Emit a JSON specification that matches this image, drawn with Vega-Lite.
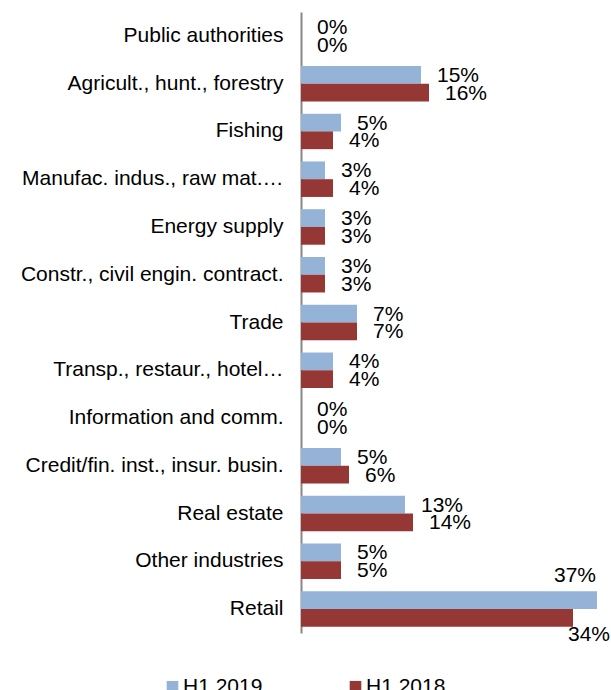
{
  "$schema": "https://vega.github.io/schema/vega-lite/v6.json",
  "width": 310,
  "height": 621,
  "autosize": "none",
  "padding": {"left": 301, "top": 12, "right": 0, "bottom": 57},
  "background": "white",
  "config": {
    "view": {"stroke": null},
    "font": "Liberation Sans",
    "text": {"font": "Liberation Sans", "fontSize": 21, "color": "#000000"}
  },
  "data": {
    "values": [
      {"sector": "Public authorities", "series": "H1 2019", "share": 0.0},
      {"sector": "Public authorities", "series": "H1 2018", "share": 0.0},
      {"sector": "Agricult., hunt., forestry", "series": "H1 2019", "share": 0.15},
      {"sector": "Agricult., hunt., forestry", "series": "H1 2018", "share": 0.16},
      {"sector": "Fishing", "series": "H1 2019", "share": 0.05},
      {"sector": "Fishing", "series": "H1 2018", "share": 0.04},
      {"sector": "Manufac. indus., raw mat.…", "series": "H1 2019", "share": 0.03},
      {"sector": "Manufac. indus., raw mat.…", "series": "H1 2018", "share": 0.04},
      {"sector": "Energy supply", "series": "H1 2019", "share": 0.03},
      {"sector": "Energy supply", "series": "H1 2018", "share": 0.03},
      {"sector": "Constr., civil engin. contract.", "series": "H1 2019", "share": 0.03},
      {"sector": "Constr., civil engin. contract.", "series": "H1 2018", "share": 0.03},
      {"sector": "Trade", "series": "H1 2019", "share": 0.07},
      {"sector": "Trade", "series": "H1 2018", "share": 0.07},
      {"sector": "Transp., restaur., hotel…", "series": "H1 2019", "share": 0.04},
      {"sector": "Transp., restaur., hotel…", "series": "H1 2018", "share": 0.04},
      {"sector": "Information and comm.", "series": "H1 2019", "share": 0.0},
      {"sector": "Information and comm.", "series": "H1 2018", "share": 0.0},
      {"sector": "Credit/fin. inst., insur. busin.", "series": "H1 2019", "share": 0.05},
      {"sector": "Credit/fin. inst., insur. busin.", "series": "H1 2018", "share": 0.06},
      {"sector": "Real estate", "series": "H1 2019", "share": 0.13},
      {"sector": "Real estate", "series": "H1 2018", "share": 0.14},
      {"sector": "Other industries", "series": "H1 2019", "share": 0.05},
      {"sector": "Other industries", "series": "H1 2018", "share": 0.05},
      {"sector": "Retail", "series": "H1 2019", "share": 0.37},
      {"sector": "Retail", "series": "H1 2018", "share": 0.34}
    ]
  },
  "encoding": {
    "y": {
      "field": "sector",
      "type": "nominal",
      "sort": null,
      "scale": {"paddingInner": 0.257, "paddingOuter": 0.1285},
      "axis": {
        "title": null,
        "ticks": false,
        "labelPadding": 18,
        "labelFont": "Liberation Sans",
        "labelFontSize": 21,
        "labelColor": "#000000",
        "labelLimit": 400,
        "domainColor": "#878787",
        "domainWidth": 2
      }
    },
    "yOffset": {"field": "series", "type": "nominal", "sort": ["H1 2019", "H1 2018"]},
    "x": {
      "field": "share",
      "type": "quantitative",
      "scale": {"domain": [0, 0.3875], "nice": false},
      "axis": null
    }
  },
  "layer": [
    {
      "mark": {"type": "bar"},
      "encoding": {
        "color": {
          "field": "series",
          "type": "nominal",
          "scale": {"domain": ["H1 2019", "H1 2018"], "range": ["#95B3D7", "#953735"]},
          "legend": {
            "title": null,
            "orient": "none",
            "legendX": -139,
            "legendY": 664,
            "direction": "horizontal",
            "symbolType": "square",
            "symbolSize": 135,
            "symbolStrokeWidth": 0,
            "labelFont": "Liberation Sans",
            "labelFontSize": 21,
            "labelColor": "#000000",
            "labelOffset": 0,
            "columnPadding": 82
          }
        }
      }
    },
    {
      "transform": [{"filter": "datum.sector !== 'Retail'"}],
      "mark": {"type": "text", "align": "left", "baseline": "middle", "dx": 16, "dy": 1},
      "encoding": {"text": {"field": "share", "type": "quantitative", "format": ".0%"}}
    },
    {
      "transform": [{"filter": "datum.sector === 'Retail' && datum.series === 'H1 2019'"}],
      "mark": {"type": "text", "align": "right", "baseline": "middle", "dx": -1, "dy": -24},
      "encoding": {"text": {"field": "share", "type": "quantitative", "format": ".0%"}}
    },
    {
      "transform": [{"filter": "datum.sector === 'Retail' && datum.series === 'H1 2018'"}],
      "mark": {"type": "text", "align": "left", "baseline": "middle", "dx": -5, "dy": 17},
      "encoding": {"text": {"field": "share", "type": "quantitative", "format": ".0%"}}
    }
  ]
}
